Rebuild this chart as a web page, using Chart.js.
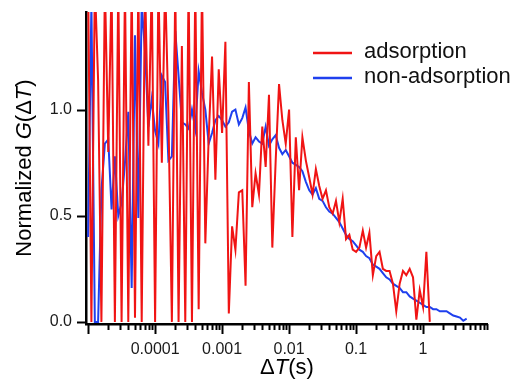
<!DOCTYPE html>
<html>
<head>
<meta charset="utf-8">
<title>Normalized G(ΔT)</title>
<script src="https://cdn.jsdelivr.net/npm/chart.js@4"></script>
<style>
  html, body { margin: 0; padding: 0; background: #fff; }
  #wrap { width: 516px; height: 381px; position: relative; }
</style>
</head>
<body>
<div id="wrap"><canvas id="chart" width="516" height="381"></canvas></div>
<script>
// lag times ΔT (s), shared by both curves
const lagTimes = [
  1.00e-5, 1.12e-5, 1.26e-5, 1.41e-5, 1.58e-5, 1.78e-5, 2.00e-5, 2.24e-5, 2.51e-5, 2.82e-5,
  3.16e-5, 3.55e-5, 3.98e-5, 4.47e-5, 5.01e-5, 5.62e-5, 6.31e-5, 7.08e-5, 7.94e-5, 8.91e-5,
  1.00e-4, 1.12e-4, 1.26e-4, 1.41e-4, 1.58e-4, 1.78e-4, 2.00e-4, 2.24e-4, 2.51e-4, 2.82e-4,
  3.16e-4, 3.55e-4, 3.98e-4, 4.47e-4, 5.01e-4, 5.62e-4, 6.31e-4, 7.08e-4, 7.94e-4, 8.91e-4,
  1.00e-3, 1.12e-3, 1.26e-3, 1.41e-3, 1.58e-3, 1.78e-3, 2.00e-3, 2.24e-3, 2.51e-3, 2.82e-3,
  3.16e-3, 3.55e-3, 3.98e-3, 4.47e-3, 5.01e-3, 5.62e-3, 6.31e-3, 7.08e-3, 7.94e-3, 8.91e-3,
  1.00e-2, 1.12e-2, 1.26e-2, 1.41e-2, 1.58e-2, 1.78e-2, 2.00e-2, 2.24e-2, 2.51e-2, 2.82e-2,
  3.16e-2, 3.55e-2, 3.98e-2, 4.47e-2, 5.01e-2, 5.62e-2, 6.31e-2, 7.08e-2, 7.94e-2, 8.91e-2,
  0.100, 0.112, 0.126, 0.141, 0.158, 0.178, 0.200, 0.224, 0.251, 0.282,
  0.316, 0.355, 0.398, 0.447, 0.501, 0.562, 0.631, 0.708, 0.794, 0.891,
  1.00, 1.12, 1.26, 1.41, 1.58, 1.78, 2.00, 2.24, 2.51, 2.82,
  3.16, 3.55, 3.98, 4.47
]

// adsorption (red)
const adsorption = [
  1.6, 0.0, 1.6, 1.14, 0.0, 1.6, 0.8, 1.6, 0.0, 1.6,
  0.0, 1.6, 0.0, 1.6, 0.02, 1.6, 0.0, 1.6, 0.83, 1.6,
  0.0, 1.6, 0.75, 1.6, 0.98, 0.0, 1.6, 0.0, 1.30, 0.0,
  1.6, 0.0, 1.6, 0.06, 1.6, 0.37, 0.87, 1.25, 0.67, 1.19,
  0.89, 1.32, 0.04, 0.45, 0.34, 0.61, 0.62, 0.17, 1.13, 0.54,
  0.70, 0.60, 0.92, 0.73, 1.07, 0.35, 0.76, 1.12, 0.95, 0.84,
  1.0, 0.40, 0.87, 0.62, 0.87, 0.76, 0.68, 0.60, 0.72, 0.64,
  0.58, 0.62, 0.54, 0.51, 0.57, 0.47, 0.58, 0.39, 0.41, 0.34,
  0.33, 0.35, 0.43, 0.35, 0.42, 0.22, 0.31, 0.33, 0.25, 0.24,
  0.24, 0.18, 0.05, 0.18, 0.24, 0.22, 0.25, 0.21, 0.01, 0.15,
  0.07, 0.33, 0.0
]

// non-adsorption (blue)
const nonAdsorption = [
  0.40, 1.50, 0.0, 0.0, 0.62, 0.84, 0.86, 0.53, 0.78, 0.50,
  0.56, 0.75, 0.99, 0.16, 1.35, 0.49, 1.50, 1.27, 0.92, 1.05,
  0.90, 0.84, 1.16, 1.13, 0.76, 0.78, 1.37, 1.16, 0.94, 0.93,
  0.91, 1.00, 0.91, 1.18, 1.08, 1.00, 0.84, 0.89, 0.95, 0.97,
  0.95, 0.92, 0.94, 0.99, 1.00, 0.93, 0.96, 1.01, 0.90, 0.84,
  0.87, 0.85, 0.84, 0.92, 0.83, 0.86, 0.88, 0.82, 0.79, 0.81,
  0.78, 0.75, 0.74, 0.73, 0.71, 0.66, 0.62, 0.60, 0.63, 0.58,
  0.57, 0.54, 0.52, 0.51, 0.49, 0.47, 0.44, 0.41, 0.39, 0.38,
  0.36, 0.34, 0.33, 0.31, 0.30, 0.27, 0.26, 0.25, 0.23, 0.21,
  0.20, 0.18, 0.17, 0.16, 0.14, 0.14, 0.12, 0.11, 0.10, 0.09,
  0.08, 0.07, 0.07, 0.06, 0.06, 0.05, 0.05, 0.05, 0.04, 0.03,
  0.025, 0.02, 0.005, 0.015
]

const xTickValues = [0.0001, 0.001, 0.01, 0.1, 1]
const xTickLabels = ['0.0001', '0.001', '0.01', '0.1', '1']
const yTickValues = [0, 0.5, 1.0]

const seriesNames = ['adsorption', 'non-adsorption']
const seriesColors = ['#f01414', '#1f40ee']

const FONT = "'Liberation Sans', Arial, Helvetica, sans-serif"
Chart.defaults.font.family = FONT

const toPoints = (vals) => vals.map((v, i) => ({ x: lagTimes[i], y: v }))

// draw a string made of plain/italic runs, centred on (0,0)
function richText(ctx, parts, size) {
  const fonts = parts.map((p) => (p[1] ? 'italic ' : '') + size + 'px ' + FONT)
  let total = 0
  const widths = parts.map((p, i) => {
    ctx.font = fonts[i]
    const w = ctx.measureText(p[0]).width
    total += w
    return w
  })
  let x = -total / 2
  ctx.textAlign = 'left'
  ctx.textBaseline = 'middle'
  parts.forEach((p, i) => {
    ctx.font = fonts[i]
    ctx.fillText(p[0], x, 0)
    x += widths[i]
  })
}

const decor = {
  id: 'decor',
  afterDraw(chart) {
    const { ctx, chartArea: a } = chart
    const xs = chart.scales.x
    const ys = chart.scales.y
    ctx.save()
    ctx.strokeStyle = '#000'
    ctx.lineWidth = 2

    // log ticks on x, long at decades
    for (let k = -5; k <= 0; k++) {
      for (let m = 1; m <= 9; m++) {
        const v = m * Math.pow(10, k)
        if (v < xs.min || v > xs.max) continue
        const px = Math.round(xs.getPixelForValue(v)) + 0.5
        ctx.beginPath()
        ctx.moveTo(px, a.bottom)
        ctx.lineTo(px, a.bottom + (m === 1 ? 10 : 6))
        ctx.stroke()
      }
    }
    // y ticks
    yTickValues.forEach((v) => {
      const py = Math.round(ys.getPixelForValue(v)) + 0.5
      ctx.beginPath()
      ctx.moveTo(a.left - 9, py)
      ctx.lineTo(a.left, py)
      ctx.stroke()
    })

    // axis titles
    ctx.fillStyle = '#000'
    ctx.save()
    ctx.translate(25, (a.top + a.bottom) / 2)
    ctx.rotate(-Math.PI / 2)
    richText(ctx, [['Normalized ', false], ['G', true], ['(Δ', false], ['T', true], [')', false]], 22)
    ctx.restore()
    ctx.save()
    ctx.translate(287, 368)
    richText(ctx, [['Δ', false], ['T', true], ['(s)', false]], 22)
    ctx.restore()

    // legend
    ctx.font = '22px ' + FONT
    ctx.textAlign = 'left'
    ctx.textBaseline = 'middle'
    seriesNames.forEach((name, i) => {
      const y = 53 + i * 25
      ctx.strokeStyle = seriesColors[i]
      ctx.lineWidth = 2.5
      ctx.beginPath()
      ctx.moveTo(313, y)
      ctx.lineTo(352, y)
      ctx.stroke()
      ctx.fillStyle = '#111'
      ctx.fillText(name, 364, y - 1)
    })
    ctx.restore()
  }
}

new Chart(document.getElementById('chart'), {
  type: 'line',
  data: {
    datasets: [
      {
        label: seriesNames[0],
        data: toPoints(adsorption),
        borderColor: seriesColors[0],
        borderWidth: 2,
        order: 0
      },
      {
        label: seriesNames[1],
        data: toPoints(nonAdsorption),
        borderColor: seriesColors[1],
        borderWidth: 2,
        order: 1
      }
    ]
  },
  options: {
    responsive: false,
    animation: false,
    events: [],
    layout: { padding: { top: 12, right: 29, left: 0, bottom: 0 } },
    elements: { point: { radius: 0 }, line: { tension: 0, fill: false } },
    plugins: { legend: { display: false }, tooltip: { enabled: false } },
    scales: {
      x: {
        type: 'logarithmic',
        min: 9.3e-6,
        max: 9.0,
        bounds: 'data',
        grid: { display: false, drawTicks: false },
        border: { display: true, color: '#000', width: 2.5 },
        afterFit: (s) => { s.height = 57; s.paddingLeft = 0; s.paddingRight = 0 },
        afterBuildTicks: (s) => { s.ticks = xTickValues.map((v) => ({ value: v })) },
        ticks: {
          autoSkip: false,
          maxRotation: 0,
          padding: 16,
          color: '#1a1a1a',
          font: { size: 16 },
          callback: (v, i) => xTickLabels[i]
        }
      },
      y: {
        type: 'linear',
        min: -0.01,
        max: 1.46,
        bounds: 'data',
        grid: { display: false, drawTicks: false },
        border: { display: true, color: '#000', width: 2.5 },
        afterFit: (s) => { s.width = 86; s.paddingTop = 0; s.paddingBottom = 0 },
        afterBuildTicks: (s) => { s.ticks = yTickValues.map((v) => ({ value: v })) },
        ticks: {
          padding: 14,
          color: '#1a1a1a',
          font: { size: 16 },
          callback: (v) => Number(v).toFixed(1)
        }
      }
    }
  },
  plugins: [decor]
})
</script>
</body>
</html>
